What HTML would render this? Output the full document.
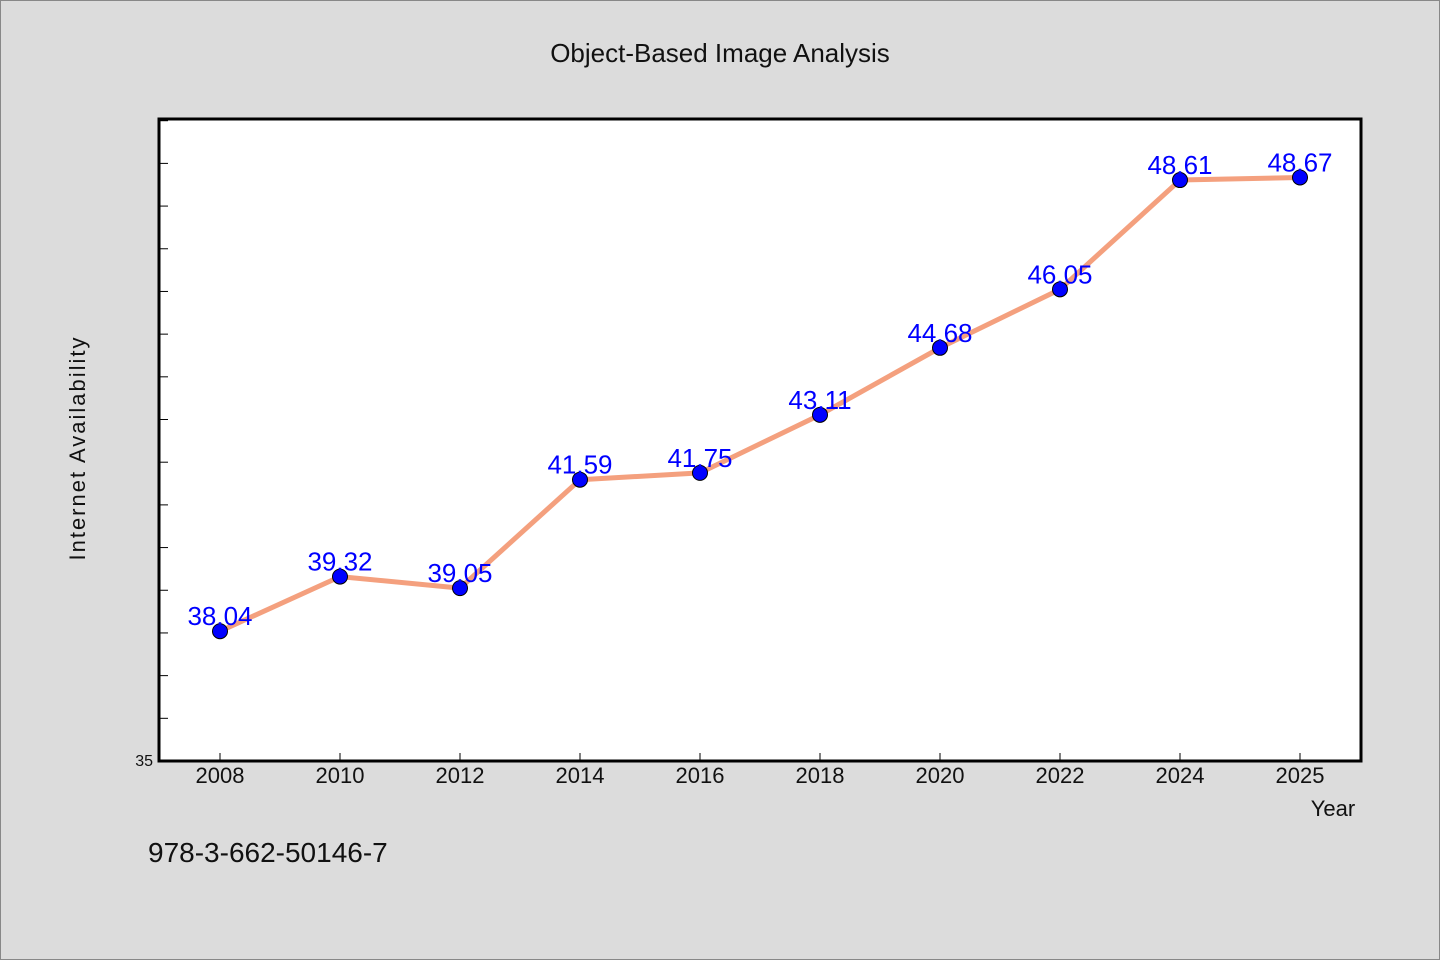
<!DOCTYPE html>
<html><head><meta charset="utf-8"><style>
body{margin:0;background:#dcdcdc;}
svg{display:block;font-family:"WenQuanYi Zen Hei","Liberation Sans",sans-serif;}
</style></head><body>
<svg id="chart" width="1440" height="960">
<rect x="0.5" y="0.5" width="1439" height="959" fill="#dcdcdc" stroke="#888"/>
<text x="720" y="62" text-anchor="middle" font-size="26" fill="#111">Object-Based Image Analysis</text>
<rect x="159" y="119" width="1202" height="642" fill="#fff" stroke="#000" stroke-width="3"/>
<g id="yticks"></g>
<g id="xticks"></g>
<text x="85" y="448" transform="rotate(-90 85 448)" text-anchor="middle" font-size="22" fill="#111" letter-spacing="2">Internet Availability</text>
<text x="1333" y="816" text-anchor="middle" font-size="22" fill="#111">Year</text>
<text x="148" y="862" font-size="28" fill="#111">978-3-662-50146-7</text>
<g id="series"></g>
</svg>
<script>
const categories=["2008","2010","2012","2014","2016","2018","2020","2022","2024","2025"];
const values=[38.04,39.32,39.05,41.59,41.75,43.11,44.68,46.05,48.61,48.67];
const yTickLabels=["35"];
const yMin=35,yMax=50.04;
const plotL=160,plotR=1360,plotT=119,plotB=761;
const ns="http://www.w3.org/2000/svg";
function xPos(i){return plotL+(i+0.5)*(plotR-plotL)/categories.length;}
function yPos(v){return plotB-(v-yMin)/(yMax-yMin)*(plotB-plotT);}
function mk(t,a,p){const e=document.createElementNS(ns,t);for(const k in a)e.setAttribute(k,a[k]);p.appendChild(e);return e;}
const yt=document.getElementById('yticks');
for(let v=yMin+1;v<=50;v++){
 const l=mk('line',{x1:159,x2:168,y1:yPos(v),y2:yPos(v),stroke:'#000','stroke-width':1},yt);
 
 
}
yTickLabels.forEach(s=>{
 const t=mk('text',{x:153,y:yPos(+s)+5,'text-anchor':'end','font-size':16,fill:'#111'},yt);
 t.textContent=s;
 
 
});
const xt=document.getElementById('xticks');
categories.forEach((c,i)=>{
 const l=mk('line',{x1:xPos(i),x2:xPos(i),y1:761,y2:753,stroke:'#000'},xt);
 
 
 const t=mk('text',{x:xPos(i),y:783,'text-anchor':'middle','font-size':22,fill:'#111'},xt);
 t.textContent=c;
 
 
});
const sg=document.getElementById('series');
const pl=mk('polyline',{points:values.map((v,i)=>xPos(i)+','+yPos(v)).join(' '),fill:'none',stroke:'#f4a07e','stroke-width':5,'stroke-linejoin':'round'},sg);


values.forEach((v,i)=>{
 const c=mk('circle',{cx:xPos(i),cy:yPos(v),r:7.5,fill:'#0000ff',stroke:'#000','stroke-width':1},sg);
 
 
});
values.forEach((v,i)=>{
 const t=mk('text',{x:xPos(i),y:yPos(v)-6,'text-anchor':'middle','font-size':26,fill:'#0000ff'},sg);
 t.textContent=v.toFixed(2);
 
 
});
</script>
</body></html>
